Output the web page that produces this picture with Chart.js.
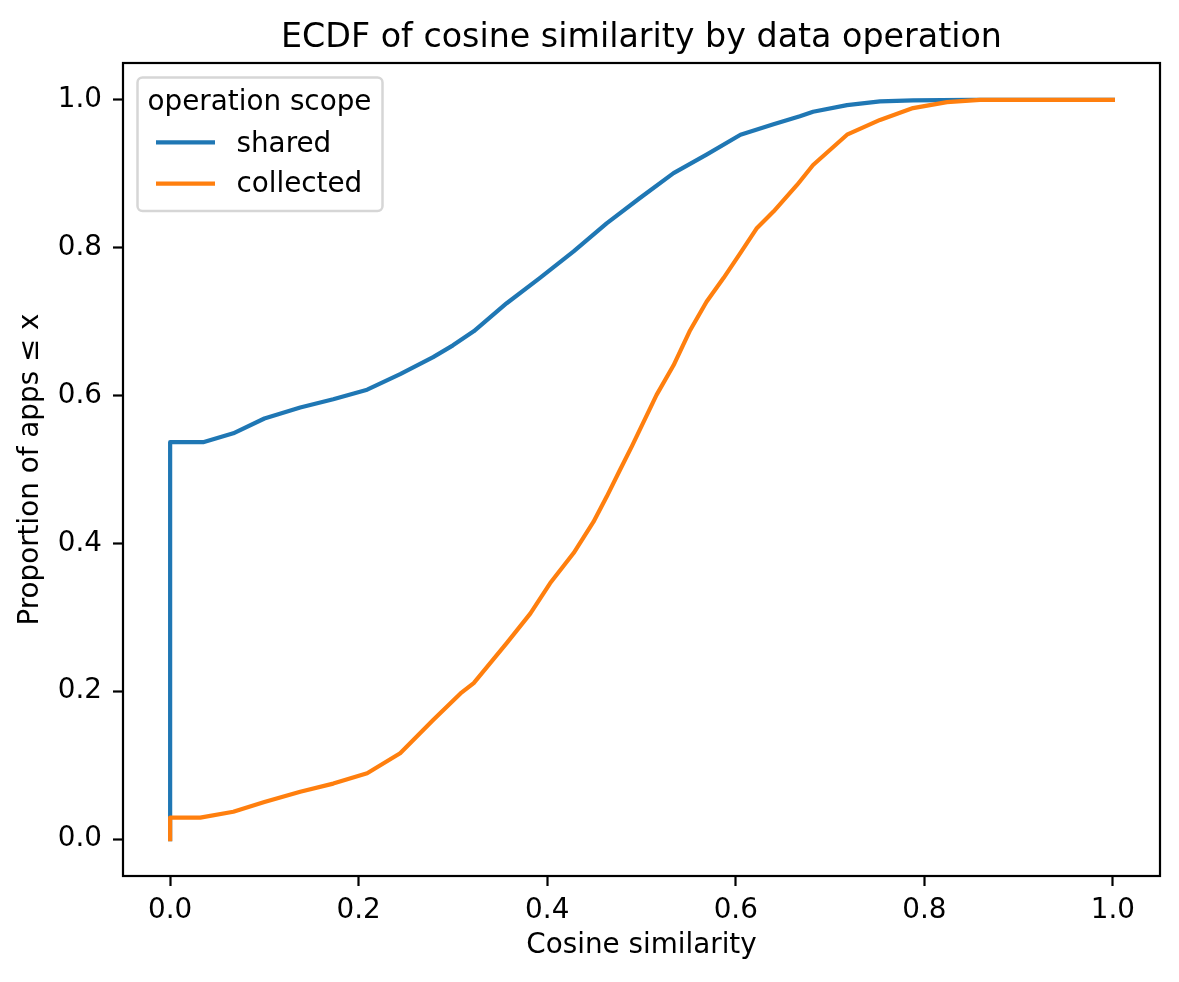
<!DOCTYPE html>
<html>
<head>
<meta charset="utf-8">
<script src="https://cdn.jsdelivr.net/npm/chart.js@4"></script>
<style>
  body { margin: 0; background: #fff; }
  #wrap { width: 1179px; height: 982px; }
</style>
</head>
<body>
<div id="wrap"><canvas id="myChart" width="1179" height="982"></canvas></div>
<script>
// ECDF values
const sharedX = [0, 0, 0.035, 0.067, 0.10, 0.138, 0.173, 0.209, 0.244, 0.279, 0.300, 0.322, 0.357, 0.392, 0.428, 0.463, 0.498, 0.534, 0.569, 0.605, 0.640, 0.668, 0.682, 0.718, 0.753, 0.788, 0.850, 1.0];
const sharedY = [0, 0.537, 0.537, 0.549, 0.569, 0.584, 0.595, 0.608, 0.629, 0.652, 0.668, 0.687, 0.725, 0.759, 0.795, 0.833, 0.867, 0.901, 0.926, 0.953, 0.967, 0.978, 0.984, 0.993, 0.998, 0.9995, 1.0, 1.0];

const collectedX = [0, 0, 0.032, 0.067, 0.10, 0.138, 0.173, 0.209, 0.244, 0.279, 0.308, 0.322, 0.357, 0.382, 0.403, 0.428, 0.449, 0.463, 0.477, 0.490, 0.516, 0.534, 0.551, 0.569, 0.587, 0.605, 0.622, 0.640, 0.665, 0.682, 0.718, 0.753, 0.788, 0.824, 0.859, 1.0];
const collectedY = [0, 0.029, 0.029, 0.037, 0.050, 0.064, 0.075, 0.089, 0.116, 0.161, 0.197, 0.211, 0.265, 0.305, 0.346, 0.387, 0.429, 0.463, 0.499, 0.532, 0.601, 0.641, 0.687, 0.727, 0.759, 0.793, 0.826, 0.849, 0.885, 0.912, 0.953, 0.973, 0.989, 0.997, 1.0, 1.0];

const xTicks = [0, 0.2, 0.4, 0.6, 0.8, 1.0];
const yTicks = [0, 0.2, 0.4, 0.6, 0.8, 1.0];
const seriesNames = ['shared', 'collected'];
const seriesColors = ['#1f77b4', '#ff7f0e'];

const FONT = 'DejaVu Sans';
const toPoints = (xs, ys) => xs.map((x, i) => ({x: x, y: ys[i]}));

// frame around the plot (matplotlib spines) + title centred over the axes
const frame = {
    id: 'frame',
    afterDatasetsDraw(chart) {
        const {ctx, chartArea: a} = chart;
        ctx.save();
        ctx.strokeStyle = '#000';
        ctx.lineWidth = 2.2;
        ctx.strokeRect(a.left, a.top, a.right - a.left, a.bottom - a.top);
        ctx.fillStyle = '#000';
        ctx.font = '33.3px "' + FONT + '"';
        ctx.textAlign = 'center';
        ctx.textBaseline = 'alphabetic';
        ctx.fillText('ECDF of cosine similarity by data operation', (a.left + a.right) / 2, a.top - 16.5);
        ctx.restore();
    }
};

// legend box inside the plot, top left
const boxLegend = {
    id: 'boxLegend',
    afterDraw(chart) {
        const ctx = chart.ctx;
        ctx.save();
        ctx.beginPath();
        ctx.roundRect(137.5, 77.5, 245, 133.5, 5);
        ctx.fillStyle = 'rgba(255,255,255,0.8)';
        ctx.fill();
        ctx.strokeStyle = '#d6d6d6';
        ctx.lineWidth = 2.5;
        ctx.stroke();

        ctx.fillStyle = '#000';
        ctx.font = '27.8px "' + FONT + '"';
        ctx.textBaseline = 'alphabetic';
        ctx.textAlign = 'center';
        ctx.fillText('operation scope', 259.5, 110);

        ctx.textAlign = 'left';
        const rows = [[142.3, 151.7], [183.7, 192.3]];
        rows.forEach((r, i) => {
            ctx.strokeStyle = seriesColors[i];
            ctx.lineWidth = 4.2;
            ctx.beginPath();
            ctx.moveTo(156, r[0]);
            ctx.lineTo(215, r[0]);
            ctx.stroke();
            ctx.fillText(seriesNames[i], 236.5, r[1]);
        });
        ctx.restore();
    }
};

const ctx = document.getElementById('myChart').getContext('2d');
const myChart = new Chart(ctx, {
    type: 'line',
    data: {
        datasets: [{
            label: seriesNames[0],
            data: toPoints(sharedX, sharedY),
            borderColor: seriesColors[0],
            order: 1
        }, {
            label: seriesNames[1],
            data: toPoints(collectedX, collectedY),
            borderColor: seriesColors[1],
            order: 0
        }]
    },
    options: {
        responsive: false,
        animation: false,
        parsing: false,
        layout: { padding: { top: 63, right: 19, bottom: 0, left: 0 } },
        elements: {
            line: { borderWidth: 4.2, tension: 0, fill: false, borderCapStyle: 'square', borderJoinStyle: 'round' },
            point: { radius: 0, hoverRadius: 0 }
        },
        datasets: { line: { clip: false } },
        scales: {
            x: {
                type: 'linear',
                min: -0.05,
                max: 1.05,
                afterBuildTicks: s => { s.ticks = xTicks.map(v => ({value: v})); },
                afterFit: s => { s.height = 106; },
                ticks: {
                    color: '#000',
                    padding: 8,
                    maxRotation: 0,
                    font: { family: FONT, size: 27.8 },
                    callback: v => v.toFixed(1)
                },
                grid: { display: true, drawOnChartArea: false, drawTicks: true, tickLength: 10, tickColor: '#000', tickWidth: 2.2 },
                border: { display: false },
                title: {
                    display: true,
                    text: 'Cosine similarity',
                    color: '#000',
                    font: { family: FONT, size: 27.8 },
                    padding: { top: 0, bottom: 20 }
                }
            },
            y: {
                type: 'linear',
                min: -0.05,
                max: 1.05,
                afterBuildTicks: s => { s.ticks = yTicks.map(v => ({value: v})); },
                afterFit: s => { s.width = 123; },
                ticks: {
                    color: '#000',
                    padding: 11,
                    font: { family: FONT, size: 27.8 },
                    callback: v => v.toFixed(1)
                },
                grid: { display: true, drawOnChartArea: false, drawTicks: true, tickLength: 10, tickColor: '#000', tickWidth: 2.2 },
                border: { display: false },
                title: {
                    display: true,
                    text: 'Proportion of apps ≤ x',
                    color: '#000',
                    font: { family: FONT, size: 27.8 },
                    padding: { top: 14, bottom: 0 }
                }
            }
        },
        plugins: {
            legend: { display: false },
            tooltip: { enabled: false },
            title: { display: false }
        }
    },
    plugins: [frame, boxLegend]
});
</script>
</body>
</html>
